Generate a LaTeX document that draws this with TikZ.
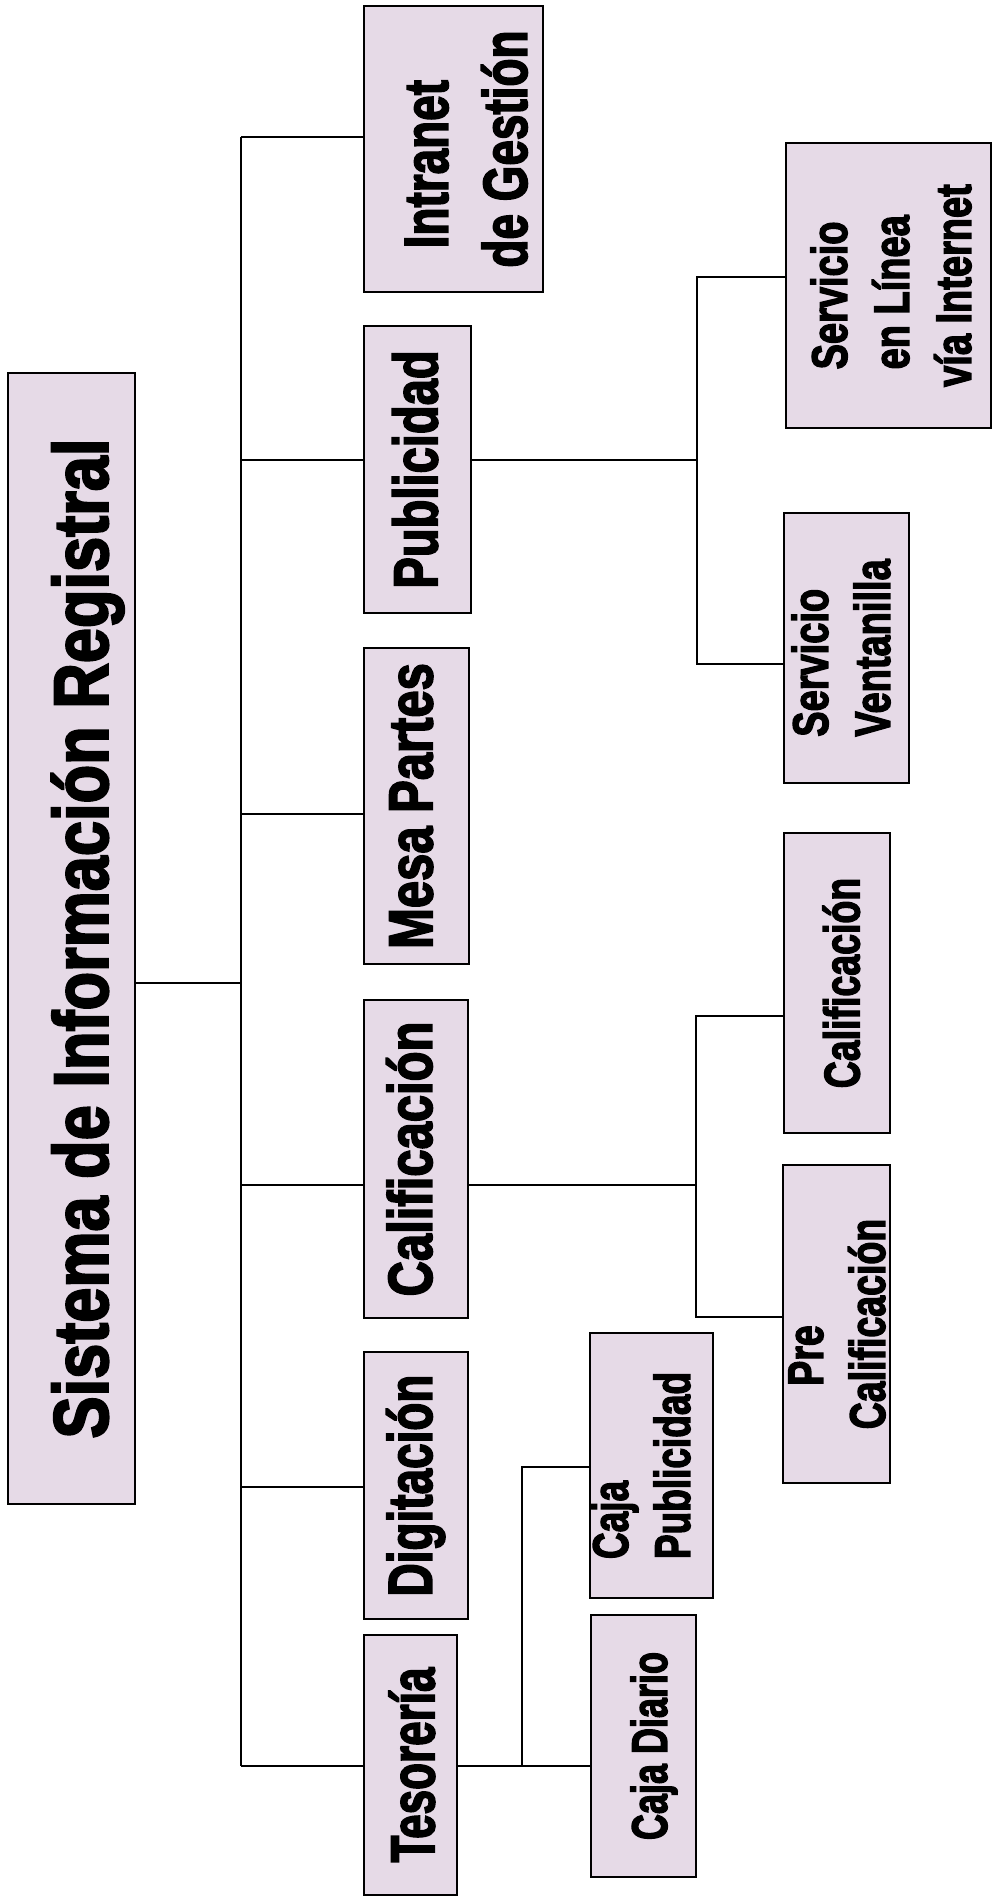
\documentclass[tikz,border=0pt]{standalone}
\usepackage{fontspec}
\usepackage{graphicx}
\newfontfamily\chartfont[BoldFeatures={FakeBold=3}]{Liberation Sans}
\definecolor{boxfill}{RGB}{230,218,231}
\tikzstyle{block} = [draw,rectangle,line width=2pt,fill=boxfill,inner sep=0pt]
\tikzstyle{line} = [draw,line width=1.6pt]
\newcommand{\chart}[2]{\chartfont\bfseries\fontsize{#1}{#2}\selectfont}
\newcommand{\vtext}[3][0pt]{\makebox[0pt]{\kern#1\rotatebox{90}{\scalebox{#2}[1]{\begin{tabular}{@{}l@{}}#3\end{tabular}}}\kern-#1}}

\begin{document}
\begin{tikzpicture}[x=1pt,y=-1pt]
  \useasboundingbox (0,0) rectangle (993,1898);

  %root
  \node[block,minimum width=127pt,minimum height=1131pt,font={\chart{77}{96}}] (root) at (71.5,938.5) {\vtext[17pt]{0.82}{Sistema de Información Registral}};

  %level 1
  \node[block,minimum width=179pt,minimum height=286pt,font={\chart{62}{79}}] (intra) at (453.5,149) {\vtext[18pt]{0.74}{\hspace*{26pt}Intranet\\de Gestión}};
  \node[block,minimum width=107pt,minimum height=287pt,font={\chart{62}{79}}] (pub) at (417.5,469.5) {\vtext[4pt]{0.76}{Publicidad}};
  \node[block,minimum width=105pt,minimum height=316pt,font={\chart{62}{79}}] (mesa) at (416.5,806) {\vtext{0.79}{Mesa Partes}};
  \node[block,minimum width=104pt,minimum height=318pt,font={\chart{62}{79}}] (calif) at (416,1159) {\vtext{0.79}{Calificación}};
  \node[block,minimum width=104pt,minimum height=267pt,font={\chart{62}{79}}] (digit) at (416,1485.5) {\vtext{0.74}{Digitación}};
  \node[block,minimum width=93pt,minimum height=260pt,font={\chart{62}{79}}] (tes) at (410.5,1765) {\vtext[8pt]{0.71}{Tesorería}};

  %level 2 publicidad
  \node[block,minimum width=205pt,minimum height=285pt,font={\chart{50}{62}}] (linea) at (888.5,285.5) {\vtext[8pt]{0.76}{\hspace*{23pt}Servicio\\\hspace*{23pt}en Línea\\vía Internet}};
  \node[block,minimum width=125pt,minimum height=270pt,font={\chart{50}{62}}] (vent) at (846.5,648) {\vtext{0.76}{Servicio\\Ventanilla}};

  %level 2 calificacion
  \node[block,minimum width=106pt,minimum height=300pt,font={\chart{50}{62}}] (calif2) at (837,983) {\vtext[10pt]{0.75}{Calificación}};
  \node[block,minimum width=107pt,minimum height=318pt,font={\chart{50}{62}}] (precal) at (836.5,1324) {\vtext[5pt]{0.75}{\hspace*{58pt}Pre\\Calificación}};

  %level 2 tesoreria
  \node[block,minimum width=123pt,minimum height=265pt,font={\chart{50}{62}}] (cajapub) at (651.5,1465.5) {\vtext[-5pt]{0.74}{Caja\\Publicidad}};
  \node[block,minimum width=105pt,minimum height=262pt,font={\chart{50}{62}}] (cajadia) at (643.5,1746) {\vtext[11pt]{0.72}{Caja Diario}};

  %spine
  \coordinate (s1) at (241,137);
  \coordinate (s2) at (241,460);
  \coordinate (s3) at (241,814);
  \coordinate (s4) at (241,983);
  \coordinate (s5) at (241,1185);
  \coordinate (s6) at (241,1487);
  \coordinate (s7) at (241,1766);
  \draw[line] (s1) -- (s7);
  \draw[line] (root.east |- s4) -- (s4);
  \draw[line] (s1) -- (s1 -| intra.west);
  \draw[line] (s2) -- (s2 -| pub.west);
  \draw[line] (s3) -- (s3 -| mesa.west);
  \draw[line] (s5) -- (s5 -| calif.west);
  \draw[line] (s6) -- (s6 -| digit.west);
  \draw[line] (s7) -- (s7 -| tes.west);

  %publicidad branch
  \coordinate (p1) at (697,460);
  \coordinate (p2) at (697,277);
  \coordinate (p3) at (697,664);
  \draw[line] (pub.east |- p1) -- (p1);
  \draw[line] (linea.west |- p2) -- (p2) -- (p3) -- (vent.west |- p3);

  %calificacion branch
  \coordinate (c1) at (696,1185);
  \coordinate (c2) at (696,1016);
  \coordinate (c3) at (696,1317);
  \draw[line] (calif.east |- c1) -- (c1);
  \draw[line] (calif2.west |- c2) -- (c2) -- (c3) -- (precal.west |- c3);

  %tesoreria branch
  \coordinate (t1) at (522,1766);
  \coordinate (t2) at (522,1467);
  \draw[line] (tes.east |- t1) -- (cajadia.west |- t1);
  \draw[line] (t1) -- (t2) -- (cajapub.west |- t2);

\end{tikzpicture}
\end{document}
